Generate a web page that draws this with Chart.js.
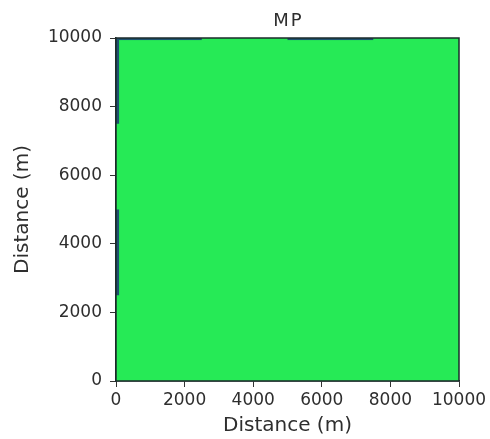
<!DOCTYPE html>
<html>
<head>
<meta charset="utf-8">
<script src="https://cdn.jsdelivr.net/npm/chart.js@4.4.0/dist/chart.umd.min.js"></script>
<style>
  body { margin: 0; background: #fff; }
</style>
</head>
<body>
<canvas id="mpChart" width="490" height="439"></canvas>
<script>
const chartTitle = "MP";
const axisLabel = "Distance (m)";
const tickValues = [0, 2000, 4000, 6000, 8000, 10000];

// field blocks in metres: whole domain, then the thin low strips on the top and left edges
const blockX0 = [0, 0, 5000, 0, 0];
const blockX1 = [10000, 2500, 7500, 90, 90];
const blockY0 = [0, 9940, 9940, 7500, 2500];
const blockY1 = [10000, 10000, 10000, 10000, 5000];
const blockValue = [1, 0, 0, 0, 0];

const valueColors = ["#1d5270", "#26ea56"];
const textColor = "#2e2e2e";

const fieldPlugin = {
    id: "field",
    beforeDatasetsDraw(chart) {
        const { ctx, chartArea } = chart;
        const x = chart.scales.x;
        const y = chart.scales.y;
        ctx.save();
        ctx.beginPath();
        ctx.rect(chartArea.left, chartArea.top, chartArea.width, chartArea.height);
        ctx.clip();
        blockValue.forEach((v, i) => {
            const left = x.getPixelForValue(blockX0[i]);
            const right = x.getPixelForValue(blockX1[i]);
            const top = y.getPixelForValue(blockY1[i]);
            const bottom = y.getPixelForValue(blockY0[i]);
            ctx.fillStyle = valueColors[v];
            ctx.fillRect(left, top, right - left, bottom - top);
        });
        ctx.restore();
    },
    afterDraw(chart) {
        const { ctx, chartArea } = chart;
        ctx.save();
        ctx.strokeStyle = "#1c2b2b";
        ctx.lineWidth = 1.5;
        ctx.strokeRect(chartArea.left, chartArea.top, chartArea.width, chartArea.height);
        // title centred over the axes, like matplotlib
        ctx.fillStyle = textColor;
        ctx.font = "18px 'DejaVu Sans'";
        ctx.letterSpacing = "2px";
        ctx.textAlign = "center";
        ctx.textBaseline = "alphabetic";
        ctx.fillText(chartTitle, (chartArea.left + chartArea.right) / 2 + 1, chartArea.top - 12);
        ctx.restore();
    }
};

function axisOptions(pos) {
    return {
        type: "linear",
        position: pos,
        min: 0,
        max: 10000,
        afterBuildTicks: (scale) => {
            scale.ticks = tickValues.map(v => ({ value: v }));
        },
        afterFit: (scale) => {
            if (pos === "left") scale.width = 116;
            else scale.height = 58;
        },
        ticks: {
            color: textColor,
            font: { family: "DejaVu Sans", size: 17 },
            padding: pos === "left" ? 8 : 3,
            autoSkip: false,
            maxRotation: 0,
            callback: (v) => String(v)
        },
        grid: {
            drawOnChartArea: false,
            tickLength: 6,
            color: "#333"
        },
        border: { display: true, color: "#1c2b2b", width: 1.5 },
        title: {
            display: true,
            text: axisLabel,
            color: textColor,
            font: { family: "DejaVu Sans", size: 20 },
            padding: pos === "left" ? { top: 11, bottom: 0 } : { top: 0, bottom: 1 }
        }
    };
}

new Chart(document.getElementById("mpChart"), {
    type: "scatter",
    data: {
        datasets: [{ label: chartTitle, data: [] }]
    },
    options: {
        responsive: false,
        animation: false,
        layout: {
            padding: { top: 38, right: 31, bottom: 0, left: 0 }
        },
        plugins: {
            legend: { display: false },
            tooltip: { enabled: false },
            title: { display: false }
        },
        scales: {
            x: axisOptions("bottom"),
            y: axisOptions("left")
        }
    },
    plugins: [fieldPlugin]
});
</script>
</body>
</html>
